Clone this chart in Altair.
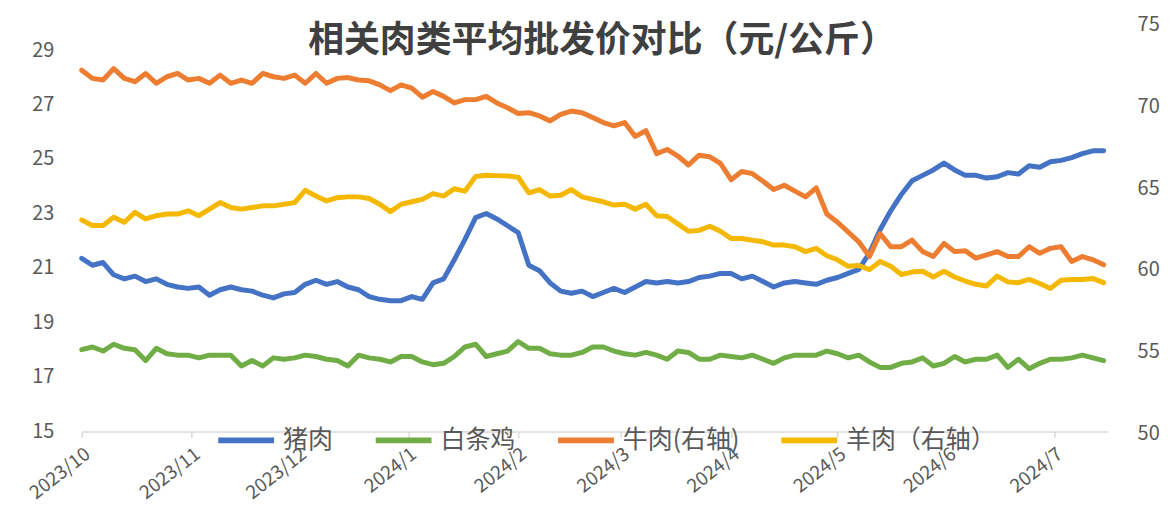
import altair as alt
import pandas as pd

# ---------------- data ----------------
start_date = "2023-10-01"
step = "3D"

pork = [21.35, 21.1, 21.2, 20.75, 20.6, 20.7, 20.5, 20.6, 20.4, 20.3, 20.25, 20.3, 20.0, 20.2, 20.3, 20.2, 20.15, 20.0, 19.9, 20.05, 20.1, 20.4, 20.55, 20.4, 20.5,
        20.3, 20.2, 19.95, 19.85, 19.8, 19.8, 19.95, 19.85, 20.45, 20.6, 21.3, 22.05, 22.85, 23.0, 22.8, 22.55, 22.3, 21.1, 20.9, 20.45, 20.15, 20.07, 20.15, 19.95,
        20.1, 20.25, 20.1, 20.3, 20.5, 20.45, 20.5, 20.45, 20.5, 20.65, 20.7, 20.8, 20.8, 20.6, 20.7, 20.5, 20.3, 20.45, 20.5, 20.45, 20.4, 20.55, 20.65, 20.8,
        20.95, 21.55, 22.4, 23.1, 23.7, 24.2, 24.4, 24.6, 24.85, 24.6, 24.4, 24.4, 24.3, 24.35, 24.5, 24.45, 24.75, 24.7, 24.9, 24.95, 25.05, 25.2, 25.3, 25.3]

chicken = [18.0, 18.1, 17.95, 18.2, 18.05, 18.0, 17.6, 18.05, 17.85, 17.8, 17.8, 17.7, 17.8, 17.8, 17.8, 17.4, 17.6, 17.4, 17.7, 17.65, 17.7, 17.8, 17.75, 17.65, 17.6,
           17.4, 17.8, 17.7, 17.65, 17.55, 17.75, 17.75, 17.55, 17.45, 17.5, 17.75, 18.1, 18.2, 17.75, 17.85, 17.95, 18.3, 18.05, 18.05, 17.85, 17.8, 17.8, 17.9, 18.1,
           18.1, 17.95, 17.85, 17.8, 17.9, 17.8, 17.65, 17.95, 17.9, 17.65, 17.65, 17.8, 17.75, 17.7, 17.8, 17.65, 17.5, 17.7, 17.8, 17.8, 17.8, 17.95, 17.85, 17.7,
           17.8, 17.55, 17.35, 17.35, 17.5, 17.55, 17.7, 17.4, 17.5, 17.75, 17.55, 17.65, 17.65, 17.8, 17.35, 17.65, 17.3, 17.5, 17.65, 17.65, 17.7, 17.8, 17.7, 17.6]

beef = [72.1, 71.6, 71.5, 72.2, 71.6, 71.4, 71.9, 71.3, 71.7, 71.9, 71.5, 71.6, 71.3, 71.8, 71.3, 71.5, 71.3, 71.9, 71.7, 71.6, 71.8, 71.3, 71.9, 71.3, 71.6,
        71.65, 71.5, 71.45, 71.2, 70.85, 71.2, 71.0, 70.45, 70.8, 70.5, 70.1, 70.3, 70.3, 70.5, 70.1, 69.8, 69.45, 69.5, 69.3, 69.0, 69.4, 69.6, 69.5, 69.2,
        68.9, 68.7, 68.9, 68.05, 68.4, 67.0, 67.25, 66.85, 66.3, 66.9, 66.8, 66.4, 65.4, 65.9, 65.77, 65.3, 64.8, 65.06, 64.7, 64.35, 64.9, 63.3, 62.8, 62.2,
        61.6, 60.7, 62.1, 61.3, 61.3, 61.7, 61.0, 60.7, 61.5, 61.0, 61.05, 60.6, 60.8, 61.0, 60.7, 60.7, 61.3, 60.9, 61.2, 61.3, 60.4, 60.7, 60.5, 60.2]

lamb = [62.93, 62.6, 62.6, 63.1, 62.8, 63.4, 63.0, 63.2, 63.3, 63.3, 63.5, 63.2, 63.6, 64.0, 63.7, 63.6, 63.7, 63.8, 63.8, 63.9, 64.0, 64.75, 64.4, 64.1, 64.3,
        64.35, 64.35, 64.25, 63.9, 63.45, 63.9, 64.05, 64.2, 64.55, 64.4, 64.85, 64.7, 65.6, 65.67, 65.65, 65.63, 65.55, 64.6, 64.8, 64.4, 64.45, 64.8, 64.35, 64.2,
        64.05, 63.85, 63.9, 63.6, 63.9, 63.2, 63.15, 62.7, 62.25, 62.3, 62.55, 62.25, 61.8, 61.8, 61.7, 61.6, 61.4, 61.4, 61.3, 61.0, 61.2, 60.75, 60.5, 60.1,
        60.15, 59.9, 60.4, 60.1, 59.6, 59.75, 59.8, 59.45, 59.8, 59.45, 59.2, 59.0, 58.9, 59.5, 59.15, 59.1, 59.3, 59.05, 58.75, 59.25, 59.3, 59.3, 59.35, 59.1]

names = ["猪肉", "白条鸡", "牛肉(右轴)", "羊肉（右轴）"]
colors = ["#4472C4", "#70AD47", "#ED7D31", "#F5B800"]
left_ticks = [15, 17, 19, 21, 23, 25, 27, 29]
right_ticks = [50, 55, 60, 65, 70, 75]
month_ticks = [(2023, 10), (2023, 11), (2023, 12), (2024, 1), (2024, 2),
               (2024, 3), (2024, 4), (2024, 5), (2024, 6), (2024, 7)]
title_text = "相关肉类平均批发价对比（元/公斤）"

FONT = "Noto Sans CJK SC"
LABEL = "#595959"

dates = list(pd.date_range(start_date, periods=len(pork), freq=step))

left_df = pd.DataFrame({
    "date": dates * 2,
    "series": [names[0]] * len(pork) + [names[1]] * len(chicken),
    "value": pork + chicken,
})
right_df = pd.DataFrame({
    "date": dates * 2,
    "series": [names[2]] * len(beef) + [names[3]] * len(lamb),
    "value": beef + lamb,
})

x_enc = alt.X(
    "date:T",
    scale=alt.Scale(domain=[alt.DateTime(year=2023, month=10, date=1),
                            alt.DateTime(year=2024, month=7, date=16)]),
    axis=alt.Axis(
        values=[alt.DateTime(year=y, month=m, date=1) for y, m in month_ticks],
        format="%Y/%-m", title=None, labelAngle=-38, labelAlign="right",
        labelBaseline="top", labelFont=FONT, labelFontSize=19, labelColor=LABEL,
        labelPadding=7, domainColor="#D9D9D9", domainWidth=1.5,
        tickColor="#D9D9D9", tickSize=6, tickWidth=1.5, grid=False,
    ),
)

color_enc = alt.Color(
    "series:N",
    scale=alt.Scale(domain=names, range=colors),
    legend=alt.Legend(
        title=None, orient="none", direction="horizontal",
        legendX=134, legendY=388, symbolType="stroke", symbolSize=3136,
        symbolStrokeWidth=6, labelFont=FONT, labelFontSize=25,
        labelColor=LABEL, labelOffset=6, columnPadding=30, padding=0,
    ),
)

line_props = dict(strokeWidth=5, strokeJoin="round", strokeCap="round")

left = alt.Chart(left_df).mark_line(**line_props).encode(
    x=x_enc,
    y=alt.Y("value:Q", scale=alt.Scale(domain=[15, 30], nice=False, zero=False),
            axis=alt.Axis(orient="left", values=left_ticks, title=None,
                          labelFont=FONT, labelFontSize=20, labelColor=LABEL,
                          labelPadding=28, domain=False, ticks=False, grid=False)),
    color=color_enc,
    detail="series:N",
)

right = alt.Chart(right_df).mark_line(**line_props).encode(
    x=x_enc,
    y=alt.Y("value:Q", scale=alt.Scale(domain=[50, 75], nice=False, zero=False),
            axis=alt.Axis(orient="right", values=right_ticks, title=None,
                          labelFont=FONT, labelFontSize=20, labelColor=LABEL,
                          labelBaseline="top", labelOffset=-8,
                          labelPadding=30, domain=False, ticks=False, grid=False)),
    color=color_enc,
    detail="series:N",
)

title = alt.Chart(pd.DataFrame({"t": [title_text]})).mark_text(
    font=FONT, fontSize=36, fontWeight="bold", color="#404040",
    align="center", baseline="middle",
).encode(text="t:N", x=alt.value(522), y=alt.value(18))

chart = alt.layer(left, right, title).resolve_scale(y="independent").properties(
    width=1029, height=410,
    padding={"left": 74, "top": 14, "right": 56, "bottom": 78},
    autosize=alt.AutoSizeParams(type="none"),
).configure_view(stroke=None)

chart.save("out.html", embed_options={"renderer": "svg", "actions": False})
